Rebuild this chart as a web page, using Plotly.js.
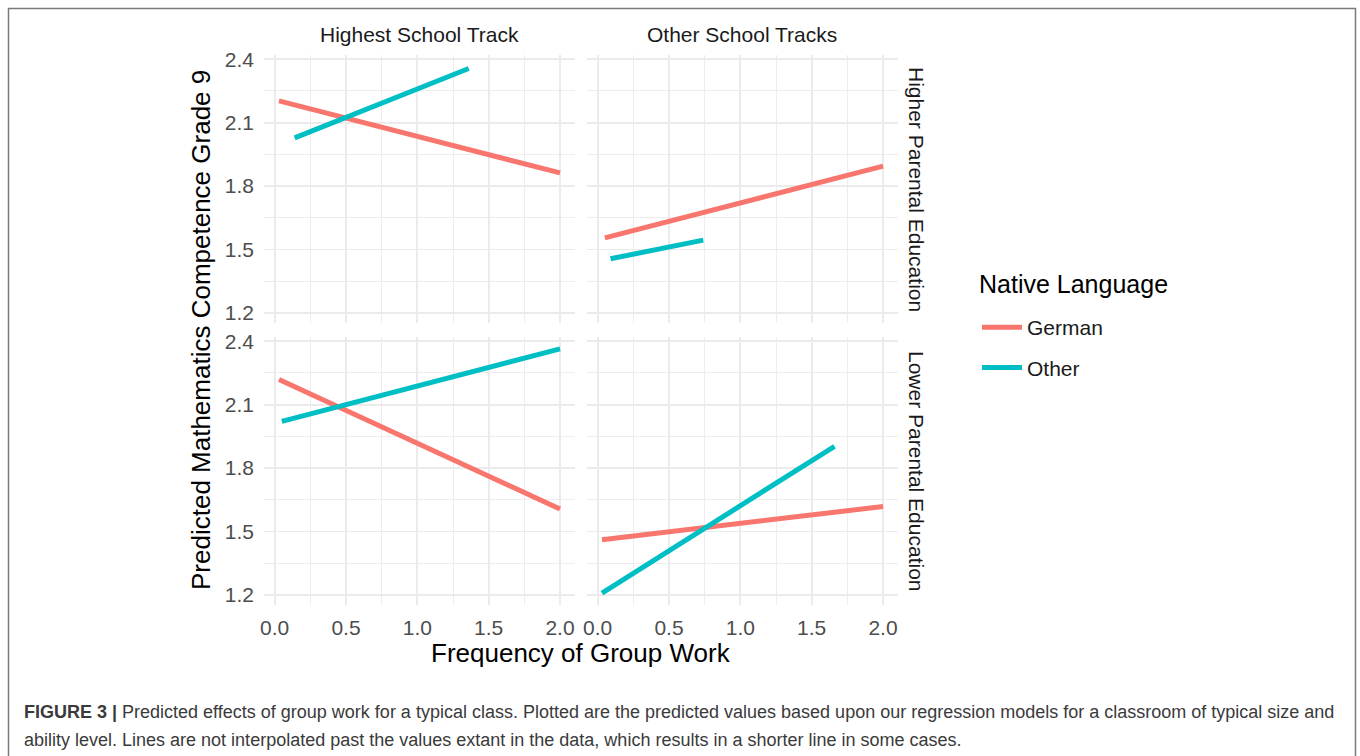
<!DOCTYPE html>
<html>
<head>
<meta charset="utf-8">
<script src="https://cdn.plot.ly/plotly-3.0.1.min.js"></script>
<style>
html,body{margin:0;padding:0;background:#fff;}
#chart{width:1360px;height:756px;}
</style>
</head>
<body>
<div id="chart"></div>
<script>
// ---- data (panel order: top-left, top-right, bottom-left, bottom-right) ----
const colStrips = ["Highest School Track", "Other School Tracks"];
const rowStrips = ["Higher Parental Education", "Lower Parental Education"];
const seriesNames = ["German", "Other"];
const germanX = [[0.03, 2.0], [0.05, 2.0], [0.03, 2.0], [0.03, 2.0]];
const germanY = [[2.203, 1.862], [1.555, 1.894], [2.219, 1.606], [1.461, 1.618]];
const otherX = [[0.14, 1.36], [0.09, 0.74], [0.05, 2.0], [0.03, 1.66]];
const otherY = [[2.028, 2.356], [1.456, 1.544], [2.021, 2.364], [1.208, 1.903]];
const xTickVals = [0, 0.5, 1, 1.5, 2];
const xTickText = ["0.0", "0.5", "1.0", "1.5", "2.0"];
const yTickVals = [1.2, 1.5, 1.8, 2.1, 2.4];
const yTickText = ["1.2", "1.5", "1.8", "2.1", "2.4"];
const xTitle = "Frequency of Group Work";
const yTitle = "Predicted Mathematics Competence Grade 9";
const legendTitle = "Native Language";
const captionBold = "FIGURE 3 |";
const captionLine1 = "Predicted effects of group work for a typical class. Plotted are the predicted values based upon our regression models for a classroom of typical size and";
const captionLine2 = "ability level. Lines are not interpolated past the values extant in the data, which results in a shorter line in some cases.";

// ---- styles ----
const W = 1360, H = 756;
const colors = {German: "#F8766D", Other: "#00BFC4"};
const FONT = "Liberation Sans, Arial, sans-serif";
const px = v => v / W;
const py = v => 1 - v / H;

const colDomains = [[px(264), px(575)], [px(587), px(898)]];
const rowDomains = [[py(323), py(55)], [py(605), py(337)]];
const xRange = [-0.075, 2.105];
const yRange = [1.152, 2.42];

const traces = [];
const layout = {
  width: W, height: H,
  margin: {l: 0, r: 0, t: 0, b: 0},
  paper_bgcolor: "#ffffff",
  plot_bgcolor: "#ffffff",
  font: {family: FONT, color: "#1a1a1a"},
  showlegend: true,
  legend: {
    x: px(977), y: py(307), xanchor: "left", yanchor: "top",
    font: {size: 21, color: "#1a1a1a", family: FONT},
    tracegroupgap: 10,
    itemwidth: 40,
    bgcolor: "rgba(0,0,0,0)"
  },
  annotations: [],
  shapes: []
};

for (let i = 0; i < 4; i++) {
  const r = Math.floor(i / 2), c = i % 2;
  const sfx = i === 0 ? "" : String(i + 1);
  const xa = "x" + sfx, ya = "y" + sfx;
  layout["xaxis" + sfx] = {
    domain: colDomains[c], anchor: ya, range: xRange,
    tickvals: xTickVals, ticktext: xTickText,
    showticklabels: r === 1, ticks: "", ticklabelstandoff: 8,
    tickfont: {size: 21, color: "#4d4d4d", family: FONT},
    showgrid: true, gridcolor: "#ebebeb", gridwidth: 1.8,
    minor: {dtick: 0.25, tick0: 0, showgrid: true, gridcolor: "#ebebeb", gridwidth: 0.9},
    zeroline: false, showline: false, fixedrange: true
  };
  layout["yaxis" + sfx] = {
    domain: rowDomains[r], anchor: xa, range: yRange,
    tickvals: yTickVals, ticktext: yTickText,
    showticklabels: c === 0, ticks: "", ticklabelstandoff: 9,
    tickfont: {size: 21, color: "#4d4d4d", family: FONT},
    showgrid: true, gridcolor: "#ebebeb", gridwidth: 1.8,
    minor: {dtick: 0.15, tick0: 1.2, showgrid: true, gridcolor: "#ebebeb", gridwidth: 0.9},
    zeroline: false, showline: false, fixedrange: true
  };
  traces.push({
    type: "scatter", mode: "lines", name: "German", legendgroup: "German",
    showlegend: i === 0, x: germanX[i], y: germanY[i], xaxis: xa, yaxis: ya,
    line: {color: colors.German, width: 5}, hoverinfo: "skip"
  });
  traces.push({
    type: "scatter", mode: "lines", name: "Other", legendgroup: "Other",
    showlegend: i === 0, x: otherX[i], y: otherY[i], xaxis: xa, yaxis: ya,
    line: {color: colors.Other, width: 5}, hoverinfo: "skip"
  });
}

// strip labels
colStrips.forEach((t, c) => {
  layout.annotations.push({
    text: t, xref: "paper", yref: "paper",
    x: (colDomains[c][0] + colDomains[c][1]) / 2, y: py(35),
    xanchor: "center", yanchor: "middle", showarrow: false,
    font: {size: 21, color: "#1a1a1a", family: FONT}
  });
});
rowStrips.forEach((t, r) => {
  layout.annotations.push({
    text: t, xref: "paper", yref: "paper",
    x: px(917), y: (rowDomains[r][0] + rowDomains[r][1]) / 2,
    xanchor: "center", yanchor: "middle", showarrow: false, textangle: 90,
    font: {size: 21, color: "#1a1a1a", family: FONT}
  });
});
// legend title
layout.annotations.push({
  text: legendTitle, xref: "paper", yref: "paper",
  x: px(977), y: py(284), xanchor: "left", yanchor: "middle", showarrow: false,
  font: {size: 25, color: "#000000", family: FONT}
});
// axis titles
layout.annotations.push({
  text: xTitle, xref: "paper", yref: "paper",
  x: (colDomains[0][0] + colDomains[1][1]) / 2, y: py(653),
  xanchor: "center", yanchor: "middle", showarrow: false,
  font: {size: 26, color: "#000000", family: FONT}
});
layout.annotations.push({
  text: yTitle, xref: "paper", yref: "paper",
  x: px(201), y: (rowDomains[1][0] + rowDomains[0][1]) / 2,
  xanchor: "center", yanchor: "middle", showarrow: false, textangle: -90,
  font: {size: 26, color: "#000000", family: FONT}
});
// caption
const CAPFONT = "Liberation Sans, Arial, sans-serif";
layout.annotations.push({
  text: "<b>" + captionBold + "</b> " + captionLine1, xref: "paper", yref: "paper",
  x: px(22), y: py(712), xanchor: "left", yanchor: "middle", showarrow: false, align: "left",
  font: {size: 18, color: "#3a3a3a", family: CAPFONT}
});
layout.annotations.push({
  text: captionLine2, xref: "paper", yref: "paper",
  x: px(22), y: py(740), xanchor: "left", yanchor: "middle", showarrow: false, align: "left",
  font: {size: 18, color: "#3a3a3a", family: CAPFONT}
});
// frame border
layout.shapes.push({
  type: "rect", xref: "paper", yref: "paper",
  x0: px(8.5), x1: px(1355.5), y0: -0.05, y1: py(8.5),
  line: {color: "#7a7a7a", width: 1.5}, fillcolor: "rgba(0,0,0,0)", layer: "above"
});

Plotly.newPlot("chart", traces, layout, {displayModeBar: false, staticPlot: true});
</script>
</body>
</html>
